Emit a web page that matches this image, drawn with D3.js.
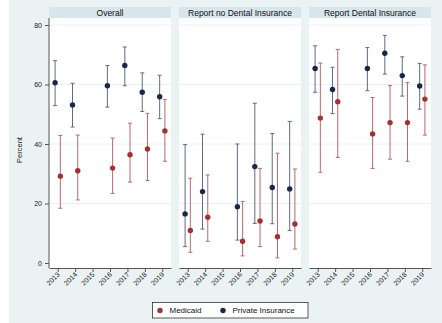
<!DOCTYPE html>
<html>
<head>
<meta charset="utf-8">
<script src="https://cdn.jsdelivr.net/npm/d3@7"></script>
<style>
  body { margin: 0; background: #fff; }
  svg { display: block; font-family: "Liberation Sans", Arial, sans-serif; }
</style>
</head>
<body>
<svg id="chart" width="442" height="323"></svg>
<script>
// ----- DATA -----
var panels = ["Overall", "Report no Dental Insurance", "Report Dental Insurance"];
var years = [2013, 2014, 2015, 2016, 2017, 2018, 2019];
var dataYears = [2013, 2014, 2016, 2017, 2018, 2019];
var yTicks = [0, 20, 40, 60, 80];

// private insurance: estimate, lower, upper (per panel)
var privEst = [
  [60.6, 53.1, 59.6, 66.4, 57.4, 55.9],
  [16.5, 24.0, 18.9, 32.4, 25.4, 24.9],
  [65.4, 58.3, 65.4, 70.5, 63.0, 59.5]
];
var privLo = [
  [52.9, 45.7, 52.4, 59.6, 50.9, 48.5],
  [5.5, 11.4, 7.7, 13.3, 13.2, 10.9],
  [57.4, 50.2, 57.9, 63.5, 56.1, 51.7]
];
var privHi = [
  [68.0, 60.4, 66.4, 72.6, 63.9, 63.1],
  [39.8, 43.3, 40.0, 53.7, 43.5, 47.6],
  [73.0, 65.8, 72.4, 76.5, 69.3, 67.1]
];

// medicaid
var medEst = [
  [29.2, 31.0, 31.9, 36.4, 38.3, 44.4],
  [10.9, 15.4, 7.3, 14.1, 8.8, 13.1],
  [48.7, 54.2, 43.4, 47.2, 47.2, 55.1]
];
var medLo = [
  [18.4, 21.2, 23.4, 27.2, 27.7, 34.2],
  [3.6, 7.3, 2.4, 5.5, 1.7, 4.7],
  [30.5, 35.5, 31.8, 34.9, 34.2, 43.0]
];
var medHi = [
  [42.9, 43.0, 42.0, 47.0, 50.3, 55.0],
  [28.5, 29.6, 20.7, 31.8, 36.9, 31.6],
  [67.2, 71.8, 55.6, 59.7, 60.6, 66.6]
];

var series = [
  { name: "Medicaid", color: "#9e3336", ci: "#b86a6b", off: 0.15, est: medEst, lo: medLo, hi: medHi },
  { name: "Private Insurance", color: "#1a2749", ci: "#5f6a82", off: -0.15, est: privEst, lo: privLo, hi: privHi }
];

// ----- LAYOUT -----
var svg = d3.select("#chart");
var bg = "#eaf2f3";
var panelX = [49, 179, 309];
var panelW = 122;
var plotTop = 18, plotBottom = 268;

svg.append("rect").attr("x", 9).attr("y", 0).attr("width", 433).attr("height", 323).attr("fill", bg);

var y = d3.scaleLinear().domain([0, 80]).range([263, 25]);

panels.forEach(function(title, p) {
  var x = d3.scaleLinear().domain([2012.5, 2019.5]).range([panelX[p], panelX[p] + panelW]);
  var g = svg.append("g");

  // strip
  g.append("rect")
    .attr("x", panelX[p]).attr("y", 7)
    .attr("width", panelW).attr("height", plotTop - 7)
    .attr("fill", "#d8e5ea");
  g.append("text")
    .attr("x", panelX[p] + panelW / 2).attr("y", 15.5)
    .attr("text-anchor", "middle")
    .attr("font-size", 8.5).attr("fill", "#111")
    .text(title);

  // plot region
  g.append("rect")
    .attr("x", panelX[p]).attr("y", plotTop)
    .attr("width", panelW).attr("height", plotBottom - plotTop)
    .attr("fill", "#fff");

  // gridlines
  g.selectAll(".grid").data(yTicks.slice(1)).enter().append("line")
    .attr("x1", panelX[p]).attr("x2", panelX[p] + panelW)
    .attr("y1", function(d) { return y(d); }).attr("y2", function(d) { return y(d); })
    .attr("stroke", bg).attr("stroke-width", 1);

  // x axis
  var xAxis = g.append("g")
    .attr("transform", "translate(0," + plotBottom + ")")
    .call(d3.axisBottom(x).tickValues(years).tickFormat(d3.format("d")).tickSize(4).tickSizeOuter(0));
  xAxis.select(".domain").attr("stroke", "#555");
  xAxis.selectAll(".tick line").attr("stroke", "#555");
  xAxis.selectAll("text")
    .attr("font-size", 7).attr("fill", "#222")
    .attr("text-anchor", "end")
    .attr("dy", null).attr("y", 0)
    .attr("transform", "translate(2,7) rotate(-45)");

  // y axis only on first panel
  if (p === 0) {
    var yAxis = g.append("g")
      .attr("transform", "translate(" + panelX[p] + ",0)")
      .call(d3.axisLeft(y).tickValues(yTicks).tickSize(4).tickSizeOuter(0));
    yAxis.select(".domain").attr("d", "M0," + plotTop + "V" + plotBottom).attr("stroke", "#555");
    yAxis.selectAll(".tick line").attr("stroke", "#555");
    yAxis.selectAll("text").attr("font-size", 7).attr("fill", "#222");
  }

  // error bars and points
  series.forEach(function(s) {
    var rows = dataYears.map(function(yr, i) {
      return { x: yr + s.off, est: s.est[p][i], lo: s.lo[p][i], hi: s.hi[p][i] };
    });
    var eg = g.append("g");
    eg.selectAll(".ci").data(rows).enter().append("path")
      .attr("d", function(d) {
        var cx = x(d.x);
        return "M" + cx + "," + y(d.lo) + "V" + y(d.hi) +
          "M" + (cx - 2) + "," + y(d.lo) + "H" + (cx + 2) +
          "M" + (cx - 2) + "," + y(d.hi) + "H" + (cx + 2);
      })
      .attr("fill", "none").attr("stroke", s.ci).attr("stroke-width", 1);
    eg.selectAll(".pt").data(rows).enter().append("circle")
      .attr("cx", function(d) { return x(d.x); })
      .attr("cy", function(d) { return y(d.est); })
      .attr("r", 2.7)
      .attr("fill", s.color);
  });
});

// y label
svg.append("text")
  .attr("transform", "translate(22,150) rotate(-90)")
  .attr("text-anchor", "middle")
  .attr("font-size", 7.5).attr("fill", "#222")
  .text("Percent");

// ----- LEGEND -----
var lg = svg.append("g");
lg.append("rect")
  .attr("x", 152.5).attr("y", 302.5).attr("width", 155.5).attr("height", 15.5)
  .attr("fill", "#fff").attr("stroke", "#333").attr("stroke-width", 0.8);
var legX = [160, 223];
series.forEach(function(s, i) {
  lg.append("circle").attr("cx", legX[i]).attr("cy", 310.5).attr("r", 2.7).attr("fill", s.color);
  lg.append("text")
    .attr("x", legX[i] + 9.5).attr("y", 313.3)
    .attr("font-size", 8).attr("fill", "#111")
    .text(s.name);
});
</script>
</body>
</html>
